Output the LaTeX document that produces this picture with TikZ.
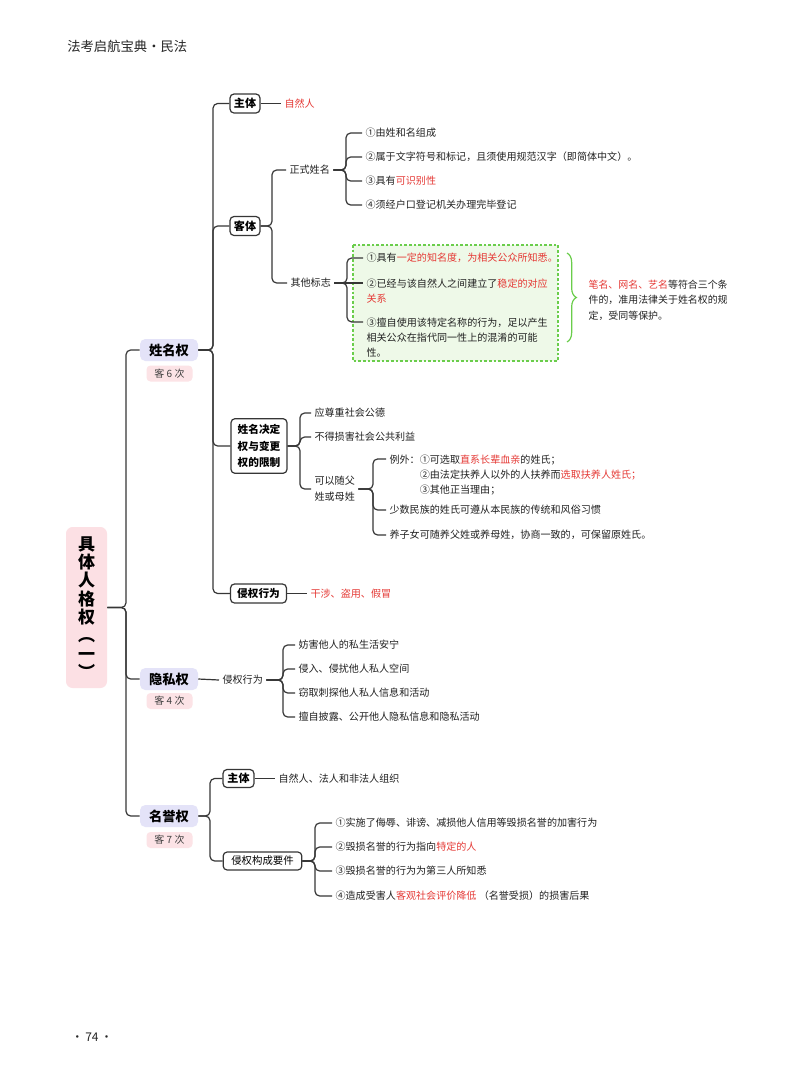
\documentclass[tikz,border=0pt]{standalone}
\usepackage{fontspec}
\setmainfont{Noto Sans CJK SC}
\usetikzlibrary{calc,decorations.pathreplacing}
\definecolor{lnc}{HTML}{363636}
\definecolor{hlred}{HTML}{E53935}
\definecolor{lav}{HTML}{E4E3F8}
\definecolor{pk}{HTML}{FCE3E6}
\definecolor{pkm}{HTML}{FCE0E4}
\definecolor{gln}{HTML}{6ACD4B}
\definecolor{gfill}{HTML}{EEF9E8}
\newcommand{\rd}[1]{\textcolor{hlred}{#1}}
\begin{document}
\begin{tikzpicture}[x=0.75pt,y=-0.75pt,
 conn/.style={draw=lnc,line width=0.9pt,rounded corners=3.5pt},
 txt/.style={anchor=west,inner sep=2.5pt,font=\fontsize{7.55}{11.25}\selectfont,text=black!87,align=left},
 mtxt/.style={txt,anchor=north west},
 l1/.style={fill=lav,rounded corners=4pt,minimum width=43.5pt,minimum height=16.5pt,inner sep=0pt,font=\fontsize{10}{12}\selectfont\bfseries},
 cnt/.style={fill=pk,rounded corners=3pt,minimum width=34.5pt,minimum height=12pt,inner sep=0pt,font=\fontsize{7.5}{9}\selectfont,text=black!75},
 bx/.style={draw=lnc,line width=0.9pt,fill=white,rounded corners=3pt,inner sep=0pt,font=\fontsize{8.3}{10}\selectfont\bfseries},
]
\useasboundingbox (0,0) rectangle (800,1086);
\fill[white] (0,0) rectangle (800,1086);

% trunk x positions
\coordinate (rootT) at (126,0);
\coordinate (xmT) at (213,0);
\coordinate (ktT) at (272,0);
\coordinate (zsT) at (346,0);
\coordinate (qtT) at (347,0);
\coordinate (jdT) at (300,0);
\coordinate (csT) at (373,0);
\coordinate (ysT) at (283,0);
\coordinate (myT) at (210,0);
\coordinate (mqT) at (315,0);

% header / footer
\node[anchor=west,inner sep=0pt,font=\fontsize{10}{12}\selectfont,text=black!85] (hdr) at (67,46) {法考启航宝典・民法};
\node[inner sep=0pt,font=\fontsize{9}{11}\selectfont,text=black!85] (pg) at (92,1037) {·\,74\,·};

% root
\node[fill=pkm,rounded corners=5pt,minimum width=30.75pt,minimum height=120.75pt,inner sep=0pt,align=center,font=\fontsize{12.75}{13.7}\selectfont\bfseries] (root) at (86.5,607.5) {具\\体\\人\\格\\权\\︵\\一\\︶};

% level 1
\node[l1] (xm) at (169,350) {姓名权};
\node[cnt] (xmc) at (169.5,373.5) {客 6 次};
\node[l1] (ys) at (169,679) {隐私权};
\node[cnt] (ysc) at (169.5,701) {客 4 次};
\node[l1] (my) at (169,816) {名誉权};
\node[cnt] (myc) at (169.5,840) {客 7 次};
\foreach \c in {xm,ys,my}
  \draw[conn] (root.east) -- (root.east -| rootT) |- (\c.west);

% ===== 姓名权 =====
\node[bx,minimum width=22.5pt,minimum height=14.25pt] (xzt) at (245,103.5) {主体};
\node[txt,text=hlred] (xztv) at (281,103.5) {自然人};
\node[bx,minimum width=22.5pt,minimum height=14.25pt] (kt) at (245,226) {客体};
\node[bx,minimum width=42pt,minimum height=41pt,align=center,font=\fontsize{8}{12.4}\selectfont\bfseries] (jd) at (259,446) {姓名决定\\权与变更\\权的限制};
\node[bx,minimum width=42pt,minimum height=14.25pt,font=\fontsize{8}{10}\selectfont\bfseries] (qq) at (258.5,593.5) {侵权行为};
\node[txt,text=hlred] (qqv) at (307,593.5) {干涉、盗用、假冒};
\foreach \c in {xzt,kt,jd,qq}
  \draw[conn] (xm.east) -- (xm.east -| xmT) |- (\c.west);
\draw[conn] (xzt.east) -- (xztv.west);
\draw[conn] (qq.east) -- (qqv.west);

% 客体
\node[txt] (zs) at (286,170) {正式姓名};
\node[txt] (qt) at (287,283) {其他标志};
\foreach \c in {zs,qt}
  \draw[conn] (kt.east) -- (kt.east -| ktT) |- (\c.west);

\node[txt] (zs1) at (362,133) {①由姓和名组成};
\node[txt] (zs2) at (362,157) {②属于文字符号和标记，且须使用规范汉字（即简体中文）。};
\node[txt] (zs3) at (362,181) {③具有\rd{可识别性}};
\node[txt] (zs4) at (362,205) {④须经户口登记机关办理完毕登记};
\foreach \c in {zs1,zs2,zs3,zs4}
  \draw[conn] (zs.east) -- (zs.east -| zsT) |- (\c.west);

% green box
\draw[gln,fill=gfill,line width=0.8pt,dash pattern=on 2pt off 1.5pt] (353,245) rectangle (558,361);
\node[txt] (qt1) at (363,258) {①具有\rd{一定的知名度，为相关公众所知悉。}};
\node[mtxt] (qt2) at (363,275.2) {②已经与该自然人之间建立了\rd{稳定的对应}\\\rd{关系}};
\node[mtxt] (qt3) at (363,314.2) {③擅自使用该特定名称的行为，足以产生\\相关公众在指代同一性上的混淆的可能\\性。};
\draw[conn] (qt.east) -- (qt.east -| qtT) |- (qt1.west);
\draw[conn] (qt.east) -- (qt.east -| qt2.west);
\draw[conn] (qt.east) -- (qt.east -| qtT) |- ([yshift=-5.8pt]qt3.north west);

\draw[gln,line width=0.9pt,decorate,decoration={brace,amplitude=7pt}] (567,253) -- (567,342);
\node[mtxt,font=\fontsize{7.45}{11.6}\selectfont] (note) at (585,276.2) {\rd{笔名、网名、艺名}等符合三个条\\件的，准用法律关于姓名权的规\\定，受同等保护。};

% 姓名决定权与变更权的限制
\node[txt] (cs1) at (311,413) {应尊重社会公德};
\node[txt] (cs2) at (311,437) {不得损害社会公共利益};
\node[txt,font=\fontsize{7.55}{12}\selectfont] (cs3) at (311,489) {可以随父\\姓或母姓};
\foreach \c in {cs1,cs2,cs3}
  \draw[conn] (jd.east) -- (jd.east -| jdT) |- (\c.west);

\node[mtxt] (ex) at (386,451.2) {例外：①可选取\rd{直系长辈血亲}的姓氏；\\\hphantom{例外：}②由法定扶养人以外的人扶养而\rd{选取扶养人姓氏；}\\\hphantom{例外：}③其他正当理由；};
\node[txt] (mz) at (386,510) {少数民族的姓氏可遵从本民族的传统和风俗习惯};
\node[txt] (yz) at (386,535) {养子女可随养父姓或养母姓，协商一致的，可保留原姓氏。};
\draw[conn] (cs3.east) -- (cs3.east -| csT) |- ([yshift=-5.8pt]ex.north west);
\foreach \c in {mz,yz}
  \draw[conn] (cs3.east) -- (cs3.east -| csT) |- (\c.west);

% ===== 隐私权 =====
\node[txt] (ysq) at (219,680) {侵权行为};
\draw[conn] (ys.east) -- (ysq.west);
\node[txt] (ys1) at (295,645) {妨害他人的私生活安宁};
\node[txt] (ys2) at (295,669) {侵入、侵扰他人私人空间};
\node[txt] (ys3) at (295,693) {窃取刺探他人私人信息和活动};
\node[txt] (ys4) at (295,717) {擅自披露、公开他人隐私信息和隐私活动};
\foreach \c in {ys1,ys2,ys3,ys4}
  \draw[conn] (ysq.east) -- (ysq.east -| ysT) |- (\c.west);

% ===== 名誉权 =====
\node[bx,minimum width=23.25pt,minimum height=13.5pt] (mzt) at (238.5,778.5) {主体};
\node[txt] (mztv) at (275,778.5) {自然人、法人和非法人组织};
\node[bx,minimum width=59pt,minimum height=13.5pt,font=\fontsize{7.8}{10}\selectfont] (qgy) at (262.5,861) {侵权构成要件};
\foreach \c in {mzt,qgy}
  \draw[conn] (my.east) -- (my.east -| myT) |- (\c.west);
\draw[conn] (mzt.east) -- (mztv.west);

\node[txt] (mq1) at (332,823) {①实施了侮辱、诽谤、减损他人信用等毁损名誉的加害行为};
\node[txt] (mq2) at (332,847) {②毁损名誉的行为指向\rd{特定的人}};
\node[txt] (mq3) at (332,871) {③毁损名誉的行为为第三人所知悉};
\node[txt] (mq4) at (332,896) {④造成受害人\rd{客观社会评价降低} （名誉受损）的损害后果};
\foreach \c in {mq1,mq2,mq3,mq4}
  \draw[conn] (qgy.east) -- (qgy.east -| mqT) |- (\c.west);

\end{tikzpicture}
\end{document}
